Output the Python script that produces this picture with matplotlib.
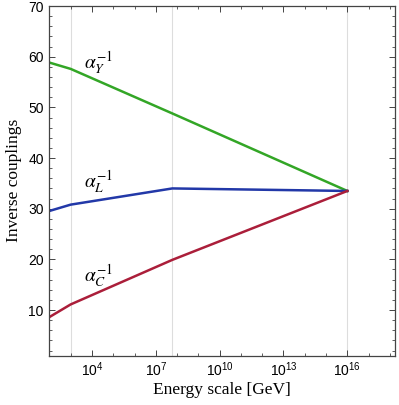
import matplotlib.pyplot as plt
from matplotlib.ticker import FixedLocator, NullFormatter, MultipleLocator

plt.rcParams['mathtext.fontset'] = 'stix'

# energy scales (GeV) where the running changes
energy = [91.19, 1.0e3, 6.0e7, 1.0e16]
alpha_Y = [58.9, 57.6, 48.8, 33.5]
alpha_L = [29.5, 30.8, 34.0, 33.5]
alpha_C = [8.5, 11.1, 19.9, 33.5]
grid_x = [1.0e3, 6.0e7, 1.0e16]

fig = plt.figure(figsize=(3.99, 4.05), dpi=100)
ax = fig.add_axes([0.1216, 0.122, 0.8684, 0.863])

for xg in grid_x:
    ax.axvline(xg, color='#dddddd', lw=0.8, zorder=0)

ax.plot(energy, alpha_Y, color='#33a626', lw=1.8)
ax.plot(energy, alpha_L, color='#2238a8', lw=1.8)
ax.plot(energy, alpha_C, color='#ab1e3a', lw=1.8)

ax.set_xscale('log')
ax.set_xlim(10**1.96, 10**18.24)
ax.set_ylim(1, 70)

ax.xaxis.set_major_locator(FixedLocator([1e4, 1e7, 1e10, 1e13, 1e16]))
ax.xaxis.set_minor_locator(FixedLocator([10.0**k for k in range(2, 19)]))
ax.xaxis.set_minor_formatter(NullFormatter())
ax.yaxis.set_major_locator(MultipleLocator(10))
ax.yaxis.set_minor_locator(MultipleLocator(2))

ax.tick_params(which='both', direction='in', top=True, right=True,
               labelsize=10, color='#444444')
ax.tick_params(which='major', length=4, width=0.7)
ax.tick_params(which='minor', length=2.5, width=0.6)
for lab in ax.get_xticklabels() + ax.get_yticklabels():
    lab.set_family('Liberation Sans')
for sp in ax.spines.values():
    sp.set_color('#444444')
    sp.set_linewidth(0.9)

ax.set_xlabel('Energy scale [GeV]', family='Liberation Serif', fontsize=12.5,
              labelpad=2)
ax.set_ylabel('Inverse couplings', family='Liberation Serif', fontsize=12.5)

ax.text(10**3.65, 57.6, r'$\alpha_Y^{-1}$', fontsize=14)
ax.text(10**3.65, 34.0, r'$\alpha_L^{-1}$', fontsize=14)
ax.text(10**3.65, 15.6, r'$\alpha_C^{-1}$', fontsize=14)

fig.savefig('out.png', dpi=100)
